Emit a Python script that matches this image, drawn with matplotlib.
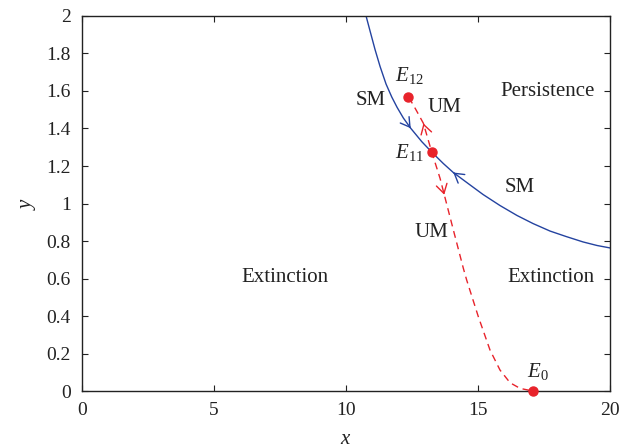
import numpy as np
import matplotlib
matplotlib.use("Agg")
import matplotlib.pyplot as plt

# ---- data ----
# stable manifold (blue, solid)
sm_x = [10.758, 10.909, 11.098, 11.288, 11.515, 11.731, 11.932, 12.170, 12.451, 12.867,
        13.246, 13.686, 14.064, 14.697, 15.189, 15.833, 16.477, 17.083, 17.727, 18.333,
        18.977, 19.508, 20.0]
sm_y = [2.000, 1.920, 1.821, 1.731, 1.637, 1.568, 1.513, 1.456, 1.401, 1.330,
        1.274, 1.213, 1.165, 1.099, 1.048, 0.989, 0.936, 0.893, 0.853, 0.824,
        0.795, 0.776, 0.763]

# unstable manifold (red, dashed) from E12 through E11 to E0
um_x = [12.38, 12.652, 12.928, 13.246, 13.561, 13.723, 14.064, 14.443, 14.568, 15.011,
        15.451, 15.830, 16.212, 16.591, 17.072]
um_y = [1.566, 1.499, 1.428, 1.274, 1.134, 1.045, 0.859, 0.654, 0.592, 0.396,
        0.219, 0.112, 0.044, 0.014, 0.0]

# equilibria
eq_x = [12.36, 13.246, 17.072]
eq_y = [1.566, 1.274, 0.0]

# direction arrows: x position on curve, +1 = pointing towards increasing x
sm_arrow_x = [12.45, 14.06]
sm_arrow_dir = [1, -1]
um_arrow_x = [12.93, 13.72]
um_arrow_dir = [-1, 1]

# region / curve labels
lab_text = ["SM", "UM", "Persistence", "SM", "UM", "Extinction", "Extinction"]
lab_x = [10.95, 13.71, 17.65, 16.59, 13.22, 7.69, 17.77]
lab_y = [1.547, 1.51, 1.595, 1.083, 0.843, 0.608, 0.608]

xticks = [0, 5, 10, 15, 20]
yticks = [0, 0.2, 0.4, 0.6, 0.8, 1.0, 1.2, 1.4, 1.6, 1.8, 2.0]

BLUE = "#2443a0"
RED = "#e8232b"
TXT = "#222222"

plt.rcParams["font.family"] = ["Liberation Serif", "DejaVu Serif"]
plt.rcParams["mathtext.fontset"] = "custom"
plt.rcParams["mathtext.it"] = "Liberation Serif:italic"
plt.rcParams["mathtext.rm"] = "Liberation Serif"

fig = plt.figure(figsize=(6.2, 4.48), dpi=100)
ax = fig.add_axes([0.1323, 0.1272, 0.8517, 0.8371])

ax.plot(sm_x, sm_y, color=BLUE, lw=1.0)
ax.plot(um_x, um_y, color=RED, lw=1.0, dashes=(5, 3.5))

def draw_arrows(xs, ys, axs, dirs, color):
    xs = np.asarray(xs); ys = np.asarray(ys)
    for xa, d in zip(axs, dirs):
        ya = np.interp(xa, xs, ys)
        eps = 0.02
        yb = np.interp(xa - d * eps, xs, ys)
        ax.annotate("", xy=(xa, ya), xytext=(xa - d * eps, yb),
                    arrowprops=dict(arrowstyle="->,head_length=0.5,head_width=0.3",
                                    color=color, lw=1.0, shrinkA=0, shrinkB=0,
                                    mutation_scale=13))

draw_arrows(sm_x, sm_y, sm_arrow_x, sm_arrow_dir, BLUE)
draw_arrows(um_x, um_y, um_arrow_x, um_arrow_dir, RED)

ax.plot(eq_x, eq_y, "o", color=RED, ms=6.5, clip_on=False, zorder=5)

fs = 15
ax.text(eq_x[0] + 0.05, eq_y[0] + 0.06, "$E_{12}$", fontsize=fs, color=TXT, ha="center", va="bottom")
ax.text(eq_x[1] - 0.3, eq_y[1], "$E_{11}$", fontsize=fs, color=TXT, ha="right", va="center")
ax.text(eq_x[2] + 0.2, eq_y[2] + 0.05, "$E_0$", fontsize=fs, color=TXT, ha="center", va="bottom")

for t, x, y in zip(lab_text, lab_x, lab_y):
    ax.text(x, y, t, fontsize=fs, color=TXT, ha="center", va="center")

ax.set_xlim(0, 20)
ax.set_ylim(0, 2)
ax.set_xticks(xticks)
ax.set_yticks(yticks)
ax.set_xticklabels([f"{v:g}" for v in xticks])
ax.set_yticklabels([f"{v:g}" for v in yticks])
ax.tick_params(direction="in", length=4, width=0.8, top=True, right=True,
               labelsize=14, colors=TXT)
ax.tick_params(axis="x", pad=8)
ax.tick_params(axis="y", pad=8)
for s in ax.spines.values():
    s.set_linewidth(1.0)
    s.set_color("#222222")
ax.set_xlabel("$x$", fontsize=fs, color=TXT, labelpad=8)
ax.set_ylabel("$y$", fontsize=fs, color=TXT, labelpad=6)

fig.savefig("out.png", dpi=100)
